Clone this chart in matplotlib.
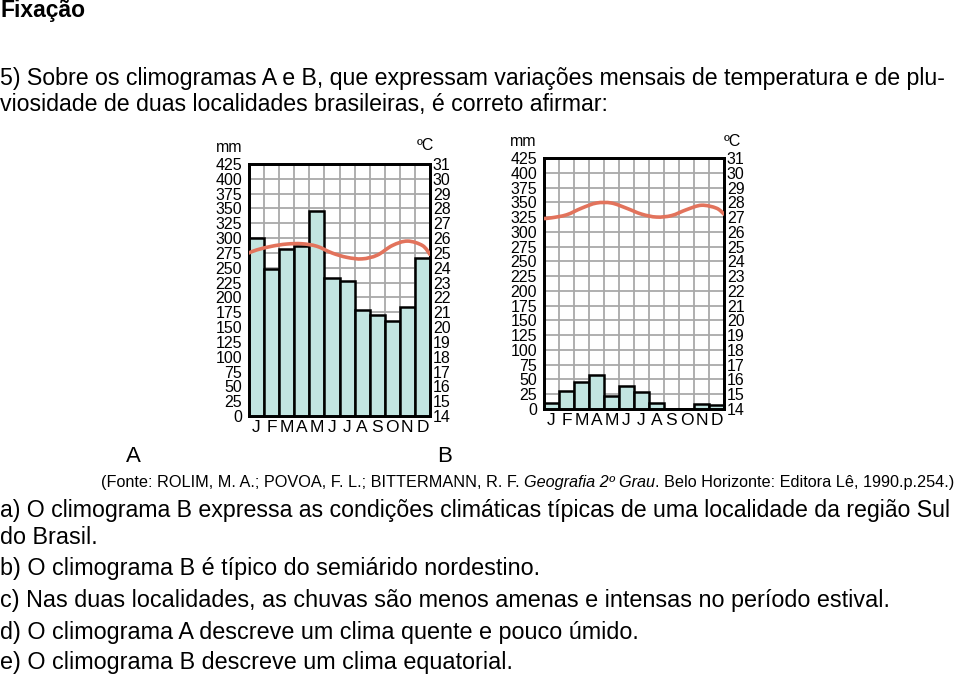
import numpy as np
import matplotlib
matplotlib.use("Agg")
import matplotlib.pyplot as plt
from matplotlib.path import Path
from matplotlib.patches import PathPatch

meses = ['J', 'F', 'M', 'A', 'M', 'J', 'J', 'A', 'S', 'O', 'N', 'D']
chuva_a = [300, 248, 282, 286, 345, 233, 228, 179, 170, 160, 184, 267]
chuva_b = [11, 30, 46, 58, 22, 39, 29, 11, 0, 0, 9, 6]
temp_a = [25.2, 25.45, 25.6, 25.62, 25.45, 25.0, 24.7, 24.6, 24.85, 25.5, 25.8, 25.5]
temp_b = [26.95, 27.15, 27.6, 27.95, 27.95, 27.6, 27.2, 27.0, 27.1, 27.5, 27.8, 27.6]
# temperatura nas bordas do grafico (inicio / fim da curva)
borda_a = [25.0, 24.9]
borda_b = [26.9, 27.2]
mm_ticks = list(range(0, 426, 25))
c_ticks = list(range(14, 32))

W, H = 960, 679
FONTE = ['Liberation Sans', 'DejaVu Sans']
plt.rcParams['font.family'] = FONTE

fig = plt.figure(figsize=(W / 100, H / 100), dpi=100)


def px(x, y):
    return x / W, 1 - y / H


def curva(ax, xs, ys, cor):
    # bezier suave passando pelos pontos
    pts = np.column_stack([xs, ys])
    ext = np.vstack([pts[0], pts, pts[-1]])
    verts = [pts[0]]
    codes = [Path.MOVETO]
    for i in range(1, len(ext) - 2):
        p0, p1, p2, p3 = ext[i - 1], ext[i], ext[i + 1], ext[i + 2]
        verts += [p1 + (p2 - p0) / 6, p2 - (p3 - p1) / 6, p2]
        codes += [Path.CURVE4] * 3
    ax.add_patch(PathPatch(Path(verts, codes), fill=False, edgecolor=cor,
                           lw=2.6, capstyle='round', zorder=5))


def climograma(caixa, chuva, temp, borda, mm_pos, c_pos):
    l, t, r, b = caixa
    ax = fig.add_axes([l / W, 1 - b / H, (r - l) / W, (b - t) / H])
    x = np.arange(12)
    ax.bar(x, chuva, width=1, color='#c2e5e1', edgecolor='black', lw=1.8, zorder=3)
    ax.set_xlim(-0.5, 11.5)
    ax.set_ylim(0, 425)
    ax.set_yticks(mm_ticks)
    ax.set_xticks(x)
    ax.set_xticklabels(meses)
    ax.set_xticks(np.arange(-0.5, 12, 1), minor=True)
    ax.grid(which='minor', axis='x', color='#a9a9a9', lw=1.3)
    ax.grid(which='major', axis='y', color='#a9a9a9', lw=1.3)
    ax.set_axisbelow(True)
    ax.tick_params(axis='y', length=0, pad=5, labelsize=11.5)
    ax.tick_params(axis='x', which='both', length=0, pad=3, labelsize=12.5)
    for s in ax.spines.values():
        s.set_linewidth(2)
    ax2 = ax.twinx()
    ax2.set_ylim(14, 31)
    ax2.set_yticks(c_ticks)
    ax2.tick_params(axis='y', length=0, pad=2, labelsize=11.5)
    for s in ax2.spines.values():
        s.set_linewidth(2)
    xs = np.concatenate([[-0.5], x, [11.5]])
    ys = np.concatenate([[borda[0]], temp, [borda[1]]])
    curva(ax2, xs, ys, '#e2735c')
    fig.text(*px(*mm_pos), 'mm', fontsize=11.5, ha='center', va='center')
    fig.text(*px(*c_pos), 'ºC', fontsize=11.5, ha='center', va='center')
    return ax


climograma((249, 164, 430, 416), chuva_a, temp_a, borda_a, (229, 148), (425, 146))
climograma((544, 158, 724, 409), chuva_b, temp_b, borda_b, (523, 141), (732, 141))

fig.text(*px(0, 10), 'Fixação', fontsize=16.5, fontweight='bold', va='center')
fig.text(*px(0, 79), '5) Sobre os climogramas A e B, que expressam variações mensais de temperatura e de plu-',
         fontsize=16.7, va='center')
fig.text(*px(0, 104), 'viosidade de duas localidades brasileiras, é correto afirmar:', fontsize=16.7, va='center')
fig.text(*px(133, 457), 'A', fontsize=16, ha='center', va='center')
fig.text(*px(445, 457), 'B', fontsize=16, ha='center', va='center')

# linha da fonte com trecho em italico
pecas = [('(Fonte: ROLIM, M. A.; POVOA, F. L.; BITTERMANN, R. F. ', 'normal'),
         ('Geografia 2º Grau', 'italic'),
         ('. Belo Horizonte: Editora Lê, 1990.p.254.)', 'normal')]
rend = fig.canvas.get_renderer()
xcur = 101
for txt, estilo in pecas:
    t = fig.text(*px(xcur, 482), txt, fontsize=11.7, style=estilo, va='center')
    xcur += t.get_window_extent(rend).width

linhas = [('a) O climograma B expressa as condições climáticas típicas de uma localidade da região Sul', 510),
          ('do Brasil.', 537),
          ('b) O climograma B é típico do semiárido nordestino.', 569),
          ('c) Nas duas localidades, as chuvas são menos amenas e intensas no período estival.', 601),
          ('d) O climograma A descreve um clima quente e pouco úmido.', 632),
          ('e) O climograma B descreve um clima equatorial.', 663)]
for txt, y in linhas:
    fs = 16.8
    t = fig.text(*px(0, y), txt, fontsize=fs, va='center')
    # encolhe se passar da borda
    while t.get_window_extent(rend).x1 > W - 3:
        fs -= 0.1
        t.set_fontsize(fs)

fig.savefig('out.png', dpi=100, facecolor='white')
